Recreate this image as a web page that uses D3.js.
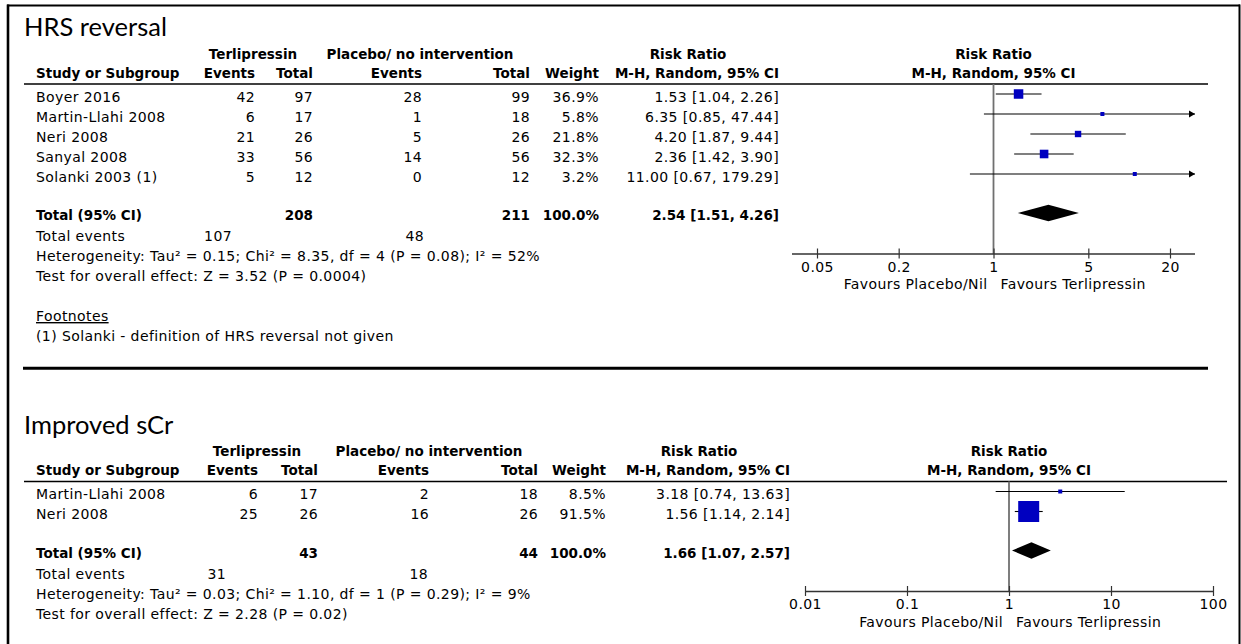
<!DOCTYPE html>
<html lang="en">
<head>
    <meta charset="UTF-8">
    <title>Terlipressin forest plots</title>
    <script src="https://d3js.org/d3.v7.min.js"></script>
    <style>
        body {
            margin: 0;
            background-color: #ffffff;
        }
        svg text {
            font-family: 'DejaVu Sans', sans-serif;
            font-size: 14px;
            letter-spacing: 0.4px;
            fill: #000000;
        }
        .title {
            font-family: 'Lato', sans-serif;
            font-size: 25.5px;
            letter-spacing: 0;
        }
        .bold {
            font-weight: bold;
            font-size: 13.5px;
            letter-spacing: 0;
        }
    </style>
</head>
<body>
<div id="chart"></div>
<script>
    // HRS reversal
    const hrsStudies = ["Boyer 2016", "Martin-Llahi 2008", "Neri 2008", "Sanyal 2008", "Solanki 2003 (1)"];
    const hrsTerliEvents = [42, 6, 21, 33, 5];
    const hrsTerliTotal = [97, 17, 26, 56, 12];
    const hrsPlaceboEvents = [28, 1, 5, 14, 0];
    const hrsPlaceboTotal = [99, 18, 26, 56, 12];
    const hrsWeight = [36.9, 5.8, 21.8, 32.3, 3.2];
    const hrsRR = [1.53, 6.35, 4.20, 2.36, 11.00];
    const hrsLower = [1.04, 0.85, 1.87, 1.42, 0.67];
    const hrsUpper = [2.26, 47.44, 9.44, 3.90, 179.29];
    const hrsTotal = {terliTotal: 208, placeboTotal: 211, rr: 2.54, lower: 1.51, upper: 4.26, terliEvents: 107, placeboEvents: 48};
    const hrsHet = "Heterogeneity: Tau² = 0.15; Chi² = 8.35, df = 4 (P = 0.08); I² = 52%";
    const hrsOverall = "Test for overall effect: Z = 3.52 (P = 0.0004)";
    const hrsTicks = [0.05, 0.2, 1, 5, 20];
    const hrsFootnote = "(1) Solanki - definition of HRS reversal not given";

    // Improved sCr
    const scrStudies = ["Martin-Llahi 2008", "Neri 2008"];
    const scrTerliEvents = [6, 25];
    const scrTerliTotal = [17, 26];
    const scrPlaceboEvents = [2, 16];
    const scrPlaceboTotal = [18, 26];
    const scrWeight = [8.5, 91.5];
    const scrRR = [3.18, 1.56];
    const scrLower = [0.74, 1.14];
    const scrUpper = [13.63, 2.14];
    const scrTotal = {terliTotal: 43, placeboTotal: 44, rr: 1.66, lower: 1.07, upper: 2.57, terliEvents: 31, placeboEvents: 18};
    const scrHet = "Heterogeneity: Tau² = 0.03; Chi² = 1.10, df = 1 (P = 0.29); I² = 9%";
    const scrOverall = "Test for overall effect: Z = 2.28 (P = 0.02)";
    const scrTicks = [0.01, 0.1, 1, 10, 100];

    const width = 1241;
    const height = 644;
    const blue = "#0000c0";

    const svg = d3.select("#chart")
        .append("svg")
        .attr("width", width)
        .attr("height", height);

    // outer frame + separator
    svg.append("line").attr("x1", 7).attr("x2", 1240).attr("y1", 5.5).attr("y2", 5.5)
        .attr("stroke", "#000").attr("stroke-width", 2.2);
    svg.append("line").attr("x1", 8).attr("x2", 8).attr("y1", 4.5).attr("y2", height)
        .attr("stroke", "#000").attr("stroke-width", 2.6);
    svg.append("line").attr("x1", 1239.5).attr("x2", 1239.5).attr("y1", 4.5).attr("y2", height)
        .attr("stroke", "#000").attr("stroke-width", 2);
    svg.append("line").attr("x1", 23).attr("x2", 1208).attr("y1", 368.3).attr("y2", 368.3)
        .attr("stroke", "#000").attr("stroke-width", 3);

    function fmtCI(rr, lo, hi) {
        return `${rr.toFixed(2)} [${lo.toFixed(2)}, ${hi.toFixed(2)}]`;
    }

    function drawPanel(cfg) {
        const g = svg.append("g");
        const c = cfg.cols;
        const y0 = cfg.top;

        const x = d3.scaleLog().domain(cfg.domain).range(cfg.range);
        const boxSize = d3.scalePow().exponent(0.75).domain([0, d3.max(cfg.weight)]).range([0, cfg.maxBox]);

        const rows = cfg.studies.map((s, i) => ({
            study: s, te: cfg.terliEvents[i], tt: cfg.terliTotal[i],
            pe: cfg.placeboEvents[i], pt: cfg.placeboTotal[i],
            w: cfg.weight[i], rr: cfg.rr[i], lo: cfg.lower[i], hi: cfg.upper[i]
        }));
        const rowY = i => y0 + 94 + i * 20;
        const totalY = rowY(rows.length - 1) + 39;
        const axisY = totalY + 41;

        const txt = (xp, yp, s, anchor, bold) => g.append("text")
            .attr("x", xp).attr("y", yp)
            .attr("text-anchor", anchor || "start")
            .attr("class", bold ? "bold" : null)
            .text(s);

        // title
        g.append("text").attr("class", "title").attr("x", 24).attr("y", y0 + 36).text(cfg.title);

        // headers
        const h1 = y0 + 58.5, h2 = y0 + 77.5;
        txt(cfg.terliCenter, h1, "Terlipressin", "middle", true);
        txt(cfg.placeboCenter, h1, "Placebo/ no intervention", "middle", true);
        txt(cfg.rrCenter, h1, "Risk Ratio", "middle", true);
        txt(x(1), h1, "Risk Ratio", "middle", true);
        txt(c.study, h2, "Study or Subgroup", "start", true);
        txt(c.tEv, h2, "Events", "end", true);
        txt(c.tTot, h2, "Total", "end", true);
        txt(c.pEv, h2, "Events", "end", true);
        txt(c.pTot, h2, "Total", "end", true);
        txt(c.weight, h2, "Weight", "end", true);
        txt(c.rr, h2, "M-H, Random, 95% CI", "end", true);
        txt(x(1), h2, "M-H, Random, 95% CI", "middle", true);

        const ruleY = y0 + 84;
        g.append("line").attr("x1", 24).attr("x2", cfg.ruleEnd).attr("y1", ruleY).attr("y2", ruleY)
            .attr("stroke", "#000").attr("stroke-width", 1.3);

        // study rows
        rows.forEach((d, i) => {
            const ty = rowY(i) + 7.5;
            txt(c.study, ty, d.study);
            txt(c.tEv, ty, d.te, "end");
            txt(c.tTot, ty, d.tt, "end");
            txt(c.pEv, ty, d.pe, "end");
            txt(c.pTot, ty, d.pt, "end");
            txt(c.weight, ty, d.w.toFixed(1) + "%", "end");
            txt(c.rr, ty, fmtCI(d.rr, d.lo, d.hi), "end");
        });

        // totals text
        const t = cfg.total;
        txt(c.study, totalY + 7, "Total (95% CI)", "start", true);
        txt(c.tTot, totalY + 7, t.terliTotal, "end", true);
        txt(c.pTot, totalY + 7, t.placeboTotal, "end", true);
        txt(c.weight, totalY + 7, "100.0%", "end", true);
        txt(c.rr, totalY + 7, fmtCI(t.rr, t.lower, t.upper), "end", true);
        txt(c.study, totalY + 28, "Total events");
        txt(cfg.evX[0], totalY + 28, t.terliEvents, "end");
        txt(cfg.evX[1], totalY + 28, t.placeboEvents, "end");
        txt(c.study, totalY + 48, cfg.het);
        txt(c.study, totalY + 68, cfg.overall);
        if (cfg.footnote) {
            txt(c.study, totalY + 108, "Footnotes").attr("text-decoration", "underline");
            txt(c.study, totalY + 128, cfg.footnote);
        }

        // plot: null line
        const axStart = cfg.range[0] - cfg.axisPad, axEnd = cfg.range[1] + cfg.axisPad;
        g.append("line").attr("x1", x(1)).attr("x2", x(1)).attr("y1", ruleY).attr("y2", axisY)
            .attr("stroke", "#707070").attr("stroke-width", 1.8);

        // CI lines with arrows when out of range
        rows.forEach((d, i) => {
            const cy = rowY(i);
            const xl = d.lo < x.invert(axStart) ? axStart : x(d.lo);
            const xr = d.hi > x.invert(axEnd) ? axEnd : x(d.hi);
            g.append("line").attr("x1", xl).attr("x2", xr).attr("y1", cy).attr("y2", cy)
                .attr("stroke", "#000").attr("stroke-width", 1.1);
            if (d.hi > x.invert(axEnd)) {
                g.append("path")
                    .attr("d", `M${axEnd},${cy} L${axEnd - 6},${cy - 3.5} L${axEnd - 6},${cy + 3.5} Z`)
                    .attr("fill", "#000");
            }
            const s = Math.max(4, boxSize(d.w));
            g.append("rect")
                .attr("x", x(d.rr) - s / 2).attr("y", cy - s / 2)
                .attr("width", s).attr("height", s)
                .attr("fill", blue);
        });

        // diamond
        const dh = 8.3;
        g.append("path")
            .attr("d", `M${x(t.lower)},${totalY} L${x(t.rr)},${totalY - dh} L${x(t.upper)},${totalY} L${x(t.rr)},${totalY + dh} Z`)
            .attr("fill", "#000");

        // axis
        const axis = d3.axisBottom(x)
            .tickValues(cfg.ticks)
            .tickFormat(d => String(d))
            .tickSize(5)
            .tickPadding(3);
        const ag = g.append("g").attr("transform", `translate(0,${axisY})`).call(axis);
        ag.select(".domain").remove();
        ag.selectAll(".tick line").attr("y1", -5.5).attr("y2", 4.5).attr("stroke", "#333").attr("stroke-width", 1.2);
        ag.selectAll(".tick text")
            .style("font-family", "'DejaVu Sans', sans-serif")
            .style("font-size", "14px")
            .style("letter-spacing", "0.4px")
            .attr("fill", "#000");
        ag.append("line").attr("x1", axStart).attr("x2", axEnd).attr("y1", 0).attr("y2", 0)
            .attr("stroke", "#333").attr("stroke-width", 1.3);

        txt(x(1) - 6, axisY + 35, "Favours Placebo/Nil", "end");
        txt(x(1) + 7, axisY + 35, "Favours Terlipressin", "start");
    }

    drawPanel({
        title: "HRS reversal", top: 0,
        studies: hrsStudies, terliEvents: hrsTerliEvents, terliTotal: hrsTerliTotal,
        placeboEvents: hrsPlaceboEvents, placeboTotal: hrsPlaceboTotal,
        weight: hrsWeight, rr: hrsRR, lower: hrsLower, upper: hrsUpper,
        total: hrsTotal, het: hrsHet, overall: hrsOverall, footnote: hrsFootnote,
        ticks: hrsTicks, domain: [0.05, 20], range: [817, 1170], axisPad: 25, maxBox: 9.5,
        cols: {study: 36, tEv: 255, tTot: 313, pEv: 422, pTot: 530, weight: 599, rr: 779},
        terliCenter: 253, placeboCenter: 420, rrCenter: 688, ruleEnd: 1208,
        evX: [232, 424]
    });

    drawPanel({
        title: "Improved sCr", top: 397.5,
        studies: scrStudies, terliEvents: scrTerliEvents, terliTotal: scrTerliTotal,
        placeboEvents: scrPlaceboEvents, placeboTotal: scrPlaceboTotal,
        weight: scrWeight, rr: scrRR, lower: scrLower, upper: scrUpper,
        total: scrTotal, het: scrHet, overall: scrOverall, footnote: null,
        ticks: scrTicks, domain: [0.01, 100], range: [805, 1213], axisPad: 0, maxBox: 21,
        cols: {study: 36, tEv: 258, tTot: 318, pEv: 429, pTot: 538, weight: 606, rr: 790},
        terliCenter: 257, placeboCenter: 429, rrCenter: 699, ruleEnd: 1227,
        evX: [226, 428]
    });
</script>
</body>
</html>
